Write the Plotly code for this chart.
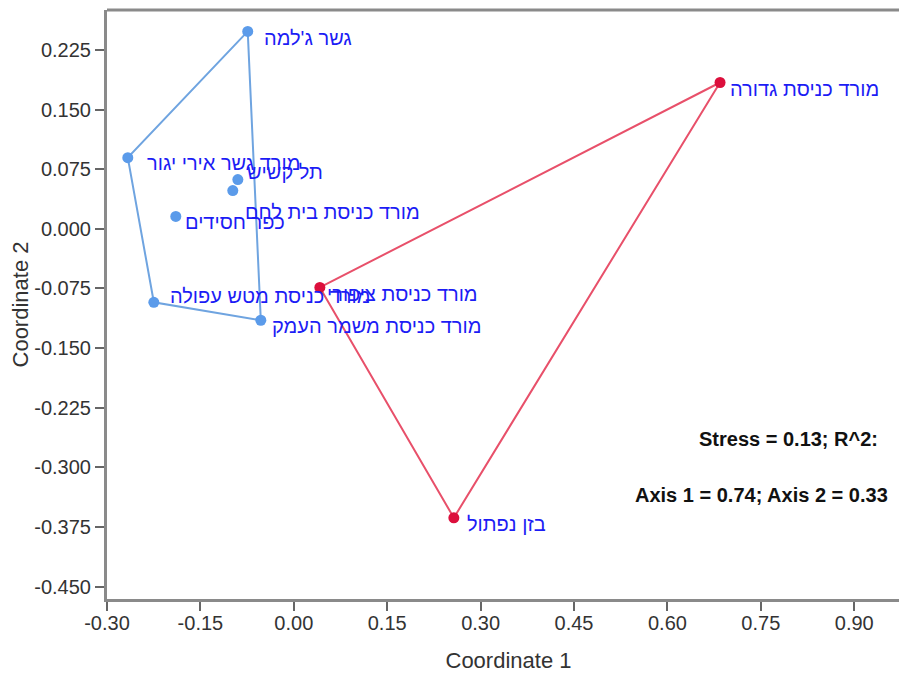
import plotly.graph_objects as go

# ---- data ----
names = [
    "גשר ג'למה",
    "מורד גשר אירי יגור",
    "תל קשיש",
    "מורד כניסת בית לחם",
    "כפר חסידים",
    "מורד כניסת מטש עפולה",
    "מורד כניסת משמר העמק",
    "מורד כניסת ציפורי",
    "מורד כניסת גדורה",
    "בזן נפתול",
]
coord1 = [-0.0740, -0.2666, -0.0899, -0.0980, -0.1895, -0.2248, -0.0530, 0.0418, 0.6845, 0.2570]
coord2 = [0.2483, 0.0895, 0.0619, 0.0481, 0.0155, -0.0924, -0.1150, -0.0737, 0.1840, -0.3635]
group = ["A", "A", "A", "A", "A", "A", "A", "B", "B", "B"]

# convex hull order (indices into the lists above)
hull_A = [0, 1, 5, 6, 0]
hull_B = [7, 8, 9, 7]

x_tickvals = [-0.30, -0.15, 0.00, 0.15, 0.30, 0.45, 0.60, 0.75, 0.90]
x_ticktext = ["-0.30", "-0.15", "0.00", "0.15", "0.30", "0.45", "0.60", "0.75", "0.90"]
y_tickvals = [0.225, 0.150, 0.075, 0.000, -0.075, -0.150, -0.225, -0.300, -0.375, -0.450]
y_ticktext = ["0.225", "0.150", "0.075", "0.000", "-0.075", "-0.150", "-0.225", "-0.300", "-0.375", "-0.450"]

stats_line1 = "Stress = 0.13; R^2:"
stats_line2 = "Axis 1 = 0.74; Axis 2 = 0.33"

# ---- styles ----
group_style = {
    "A": dict(marker="#5b9bea", line="#6fa4e0"),
    "B": dict(marker="#dc0f3c", line="#e8506a"),
}
# label pixel offsets (xshift, yshift)
label_shift = [(14, -7), (17, -5), (7, 8), (10, -21), (7, -6), (14, 6), (9, -6), (5, -7), (8, -6), (11, -6)]
label_color = "#1c1cf5"
axis_color = "#8a8a8a"
tick_color = "#666666"
text_color = "#333333"
font_family = "Liberation Sans, Arial, sans-serif"

FIG_W = 910  # slightly wider than the window: the plot area runs off the right edge, as in the reference
PLOT_W = FIG_W - 107

fig = go.Figure()

for g, hull in (("A", hull_A), ("B", hull_B)):
    fig.add_trace(go.Scatter(
        x=[coord1[i] for i in hull], y=[coord2[i] for i in hull],
        mode="lines", line=dict(color=group_style[g]["line"], width=2),
        hoverinfo="skip", showlegend=False,
    ))

for g in ("A", "B"):
    idx = [i for i, gg in enumerate(group) if gg == g]
    fig.add_trace(go.Scatter(
        x=[coord1[i] for i in idx], y=[coord2[i] for i in idx],
        mode="markers", marker=dict(color=group_style[g]["marker"], size=11),
        text=[names[i] for i in idx], hoverinfo="text", showlegend=False,
    ))

for i, n in enumerate(names):
    dx, dy = label_shift[i]
    fig.add_annotation(
        x=coord1[i], y=coord2[i], text=n, showarrow=False,
        xanchor="left", yanchor="middle", xshift=dx, yshift=dy,
        font=dict(family=font_family, size=20, color=label_color),
    )

fig.add_annotation(xref="paper", yref="paper", x=(880 - 107) / PLOT_W, y=(599 - 439) / 589,
                   text="<b>" + stats_line1 + "</b>",
                   showarrow=False, xanchor="right", yanchor="middle",
                   font=dict(family=font_family, size=20, color="#111111"))
fig.add_annotation(xref="paper", yref="paper", x=(890 - 107) / PLOT_W, y=(599 - 495) / 589,
                   text="<b>" + stats_line2 + "</b>",
                   showarrow=False, xanchor="right", yanchor="middle",
                   font=dict(family=font_family, size=20, color="#111111"))

# top frame line
fig.add_shape(type="line", xref="paper", yref="paper", x0=0, x1=1, y0=1, y1=1,
              line=dict(color=axis_color, width=3), layer="above")

fig.update_layout(
    width=FIG_W, height=673,
    margin=dict(l=107, r=0, t=10, b=74),
    plot_bgcolor="white", paper_bgcolor="white",
    font=dict(family=font_family, size=20, color=text_color),
    xaxis=dict(
        range=[-0.30, -0.30 + PLOT_W / 622.7], tickvals=x_tickvals, ticktext=x_ticktext, automargin=False,
        showgrid=False, zeroline=False, showline=True, linecolor=axis_color, linewidth=3,
        mirror=False, ticks="outside", ticklen=9, tickwidth=2, tickcolor=tick_color,
        ticklabelstandoff=-5,
        tickfont=dict(size=20, color=text_color),
        title=dict(text="Coordinate 1", standoff=21, font=dict(size=22, color=text_color)),
    ),
    yaxis=dict(
        range=[-0.4656, 0.2752], tickvals=y_tickvals, ticktext=y_ticktext, automargin=False,
        showgrid=False, zeroline=False, showline=True, linecolor=axis_color, linewidth=3,
        mirror=False, ticks="outside", ticklen=9, tickwidth=2, tickcolor=tick_color,
        tickfont=dict(size=20, color=text_color),
        title=dict(text="Coordinate 2", standoff=0, font=dict(size=22, color=text_color)),
    ),
)

fig.write_html(
    "out.html",
    config={"displayModeBar": False},
    post_script="document.body.style.margin='0';document.body.style.overflow='hidden';",
)
